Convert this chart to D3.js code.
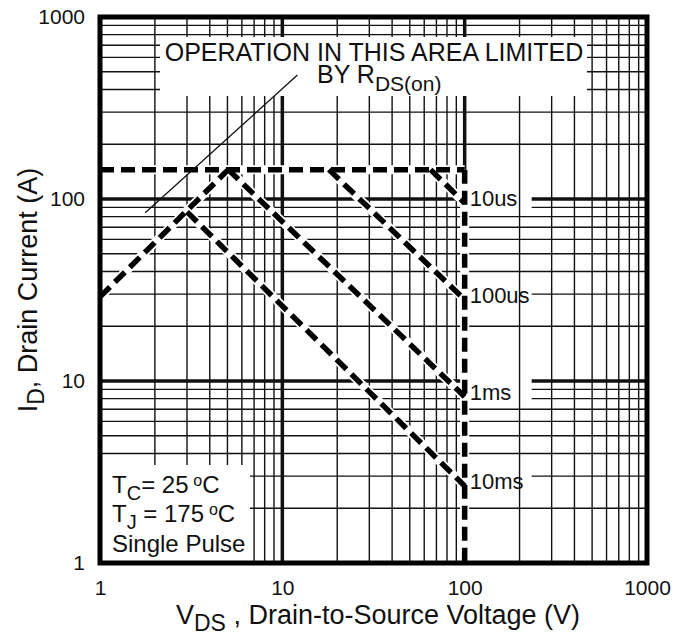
<!DOCTYPE html>
<html>
<head>
<meta charset="utf-8">
<script src="https://cdn.jsdelivr.net/npm/d3@7"></script>
<style>
  body { margin: 0; background: #fff; }
  text { font-family: "Liberation Sans", Arial, Helvetica, sans-serif; fill: #111; }
</style>
</head>
<body>
<svg id="chart" width="693" height="637"></svg>
<script>
// tick values
const voltageTicks = [1, 10, 100, 1000];
const currentTicks = [1, 10, 100, 1000];

// SOA boundaries, V in volts, I in amps
const rdsLimit = [{v: 1, i: 29}, {v: 5.05, i: 145}];
const currentLimit = [{v: 1, i: 145}, {v: 100, i: 145}];
const voltageLimit = [{v: 100, i: 145}, {v: 100, i: 1}];
const pulse10us = [{v: 65, i: 145}, {v: 100, i: 95}];
const pulse100us = [{v: 18, i: 145}, {v: 100, i: 28}];
const pulse1ms = [{v: 5.05, i: 145}, {v: 100, i: 8.2}];
const pulse10ms = [{v: 3, i: 85}, {v: 100, i: 2.65}];
const pulseLabels = ["10us", "100us", "1ms", "10ms"];
const annotationLine = [{v: 1.77, i: 84}, {v: 12.1, i: 480}];

const margin = {top: 17, right: 46, bottom: 74, left: 100},
  width = 693,
  height = 637,
  plotW = width - margin.left - margin.right,
  plotH = height - margin.top - margin.bottom;

const x = d3.scaleLog().domain([1, 1000]).range([margin.left, margin.left + plotW]);
const y = d3.scaleLog().domain([1, 1000]).range([margin.top + plotH, margin.top]);

const svg = d3.select('#chart');
const isMajor = d => Math.abs(Math.log10(d) - Math.round(Math.log10(d))) < 1e-9;

// horizontal grid
svg.append('g').selectAll('line')
  .data(y.ticks().filter(d => d > 1 && d < 1000))
  .enter().append('line')
    .attr('x1', x(1)).attr('x2', x(1000))
    .attr('y1', d => y(d)).attr('y2', d => y(d))
    .attr('stroke', '#111')
    .attr('stroke-width', d => isMajor(d) ? 3.5 : 1.4);

const pulses = [pulse10us, pulse100us, pulse1ms, pulse10ms];

// white boxes behind pulse labels (they only hide horizontal lines)
svg.append('g').selectAll('rect')
  .data(pulses)
  .enter().append('rect')
    .attr('x', x(100) + 2)
    .attr('y', d => y(d[1].i) - 20)
    .attr('width', 65)
    .attr('height', 30)
    .attr('fill', '#fff');

// vertical grid
svg.append('g').selectAll('line')
  .data(x.ticks().filter(d => d > 1 && d < 1000))
  .enter().append('line')
    .attr('y1', y(1)).attr('y2', y(1000))
    .attr('x1', d => x(d)).attr('x2', d => x(d))
    .attr('stroke', '#111')
    .attr('stroke-width', d => isMajor(d) ? 3.5 : 1.4);

// boxes for title and conditions
svg.append('rect').attr('x', 160).attr('y', 37).attr('width', 427).attr('height', 59).attr('fill', '#fff');
svg.append('rect').attr('x', x(1)).attr('y', 465).attr('width', 150).attr('height', y(1) - 465).attr('fill', '#fff');

const line = d3.line().x(d => x(d.v)).y(d => y(d.i));
const curves = [currentLimit, rdsLimit, voltageLimit, ...pulses];

const curveG = svg.append('g');
curveG.selectAll('path.halo')
  .data(curves)
  .enter().append('path')
    .attr('class', 'halo')
    .attr('d', line)
    .attr('fill', 'none')
    .attr('stroke', '#fff')
    .attr('stroke-width', 9);
curveG.selectAll('path.dash')
  .data(curves)
  .enter().append('path')
    .attr('class', 'dash')
    .attr('d', line)
    .attr('fill', 'none')
    .attr('stroke', '#000')
    .attr('stroke-width', 5.5)
    .attr('stroke-dasharray', '14,7');

svg.append('path')
  .attr('d', line(annotationLine))
  .attr('fill', 'none')
  .attr('stroke', '#111')
  .attr('stroke-width', 1.3);

// frame
svg.append('rect')
  .attr('x', x(1)).attr('y', y(1000))
  .attr('width', x(1000) - x(1)).attr('height', y(1) - y(1000))
  .attr('fill', 'none')
  .attr('stroke', '#000')
  .attr('stroke-width', 5);

// axes (labels only)
const xAxis = svg.append('g')
  .attr('transform', `translate(0,${y(1)})`)
  .call(d3.axisBottom(x).tickValues(voltageTicks).tickFormat(d3.format('d')).tickSize(0).tickPadding(17));
const yAxis = svg.append('g')
  .attr('transform', `translate(${x(1)},0)`)
  .call(d3.axisLeft(y).tickValues(currentTicks).tickFormat(d3.format('d')).tickSize(0).tickPadding(15));
[xAxis, yAxis].forEach(a => {
  a.select('.domain').remove();
  a.selectAll('text').attr('font-size', 21).attr('fill', '#111')
    .style('font-family', '"Liberation Sans", Arial, sans-serif');
});

// pulse labels
svg.append('g').selectAll('text')
  .data(pulses)
  .enter().append('text')
    .attr('x', x(100) + 5)
    .attr('y', d => y(d[1].i) + 3)
    .attr('font-size', 22)
    .text((d, k) => pulseLabels[k]);

// title annotation
svg.append('text')
  .attr('x', 374).attr('y', 61)
  .attr('text-anchor', 'middle')
  .attr('font-size', 25)
  .text('OPERATION IN THIS AREA LIMITED');
const by = svg.append('text').attr('x', 317).attr('y', 83).attr('font-size', 25);
by.append('tspan').text('BY R');
by.append('tspan').attr('dy', 8).attr('font-size', 21).text('DS(on)');

// conditions
const cond = svg.append('g').attr('font-size', 24);
const t1 = cond.append('text').attr('x', 112).attr('y', 493);
t1.append('tspan').text('T');
t1.append('tspan').attr('dy', 7).attr('font-size', 20).text('C');
t1.append('tspan').attr('dy', -7).text('= 25\u2009');
t1.append('tspan').attr('dy', -7).attr('font-size', 16).text('o');
t1.append('tspan').attr('dy', 7).text('C');
const t2 = cond.append('text').attr('x', 112).attr('y', 522);
t2.append('tspan').text('T');
t2.append('tspan').attr('dy', 7).attr('font-size', 20).text('J');
t2.append('tspan').attr('dy', -7).text(' = 175\u2009');
t2.append('tspan').attr('dy', -7).attr('font-size', 16).text('o');
t2.append('tspan').attr('dy', 7).text('C');
cond.append('text').attr('x', 112).attr('y', 552).text('Single Pulse');

// axis titles
const xt = svg.append('text')
  .attr('x', 378).attr('y', 624)
  .attr('text-anchor', 'middle')
  .attr('font-size', 27);
xt.append('tspan').text('V');
xt.append('tspan').attr('dy', 7).attr('font-size', 23).text('DS');
xt.append('tspan').attr('dy', -7).text(' , Drain-to-Source Voltage (V)');

const yt = svg.append('text')
  .attr('transform', 'translate(37,290) rotate(-90)')
  .attr('text-anchor', 'middle')
  .attr('font-size', 27);
yt.append('tspan').text('I');
yt.append('tspan').attr('dy', 7).attr('font-size', 23).text('D');
yt.append('tspan').attr('dy', -7).text(', Drain Current (A)');
</script>
</body>
</html>
